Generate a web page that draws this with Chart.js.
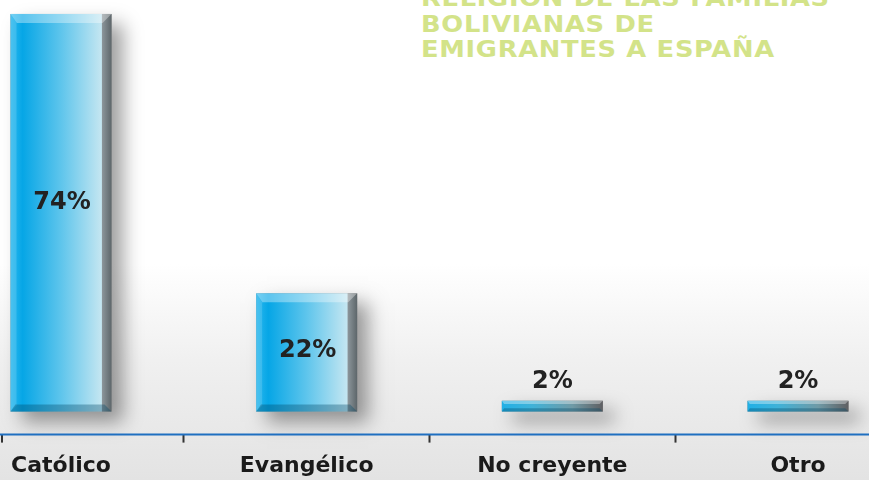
<!DOCTYPE html>
<html>
<head>
<meta charset="utf-8">
<script src="https://cdn.jsdelivr.net/npm/chart.js@4/dist/chart.umd.min.js"></script>
<style>
  html, body { margin: 0; padding: 0; }
  body {
    width: 869px; height: 480px; overflow: hidden; position: relative;
    background: linear-gradient(to bottom, #ffffff 0%, #ffffff 55%, #f0f0f0 75%, #e3e3e3 100%);
    font-family: "DejaVu Sans", Verdana, sans-serif;
  }
  #title {
    position: absolute; left: 421px; top: -14px;
    font: bold 23px "DejaVu Sans", Verdana, sans-serif;
    line-height: 25.5px; letter-spacing: 0.6px;
    transform: scaleX(1.12); transform-origin: 0 0;
    color: #d3e389; white-space: nowrap;
  }
  #wrap { position: absolute; left: 0; top: 0; width: 869px; height: 480px; }
</style>
</head>
<body>
<div id="title">RELIGIÓN DE LAS FAMILIAS<br>BOLIVIANAS DE<br>EMIGRANTES A ESPAÑA</div>
<div id="wrap"><canvas id="chart"></canvas></div>
<script>
  'use strict';

  const categories = ['Católico', 'Evangélico', 'No creyente', 'Otro'];
  const percentages = [74, 22, 2, 2];
  const valueLabels = ['74%', '22%', '2%', '2%'];

  // bars with bevelled edges and a drop shadow, drawn from the bar elements
  const bevelBars = {
    id: 'bevelBars',
    afterDatasetsDraw(chart) {
      const ctx = chart.ctx;
      chart.getDatasetMeta(0).data.forEach((bar, i) => {
        const { x, y, base, width } = bar.getProps(['x', 'y', 'base', 'width'], true);
        const l = x - width / 2, r = x + width / 2, t = y, b = base, h = b - t;
        const bev = Math.min(9, h * 0.3);

        ctx.save();
        ctx.shadowColor = 'rgba(0,0,0,0.38)';
        ctx.shadowBlur = 18;
        ctx.shadowOffsetX = 11;
        ctx.shadowOffsetY = 10;
        ctx.fillStyle = '#8a8a8a';
        ctx.fillRect(l, t, width, h);
        ctx.restore();

        const g = ctx.createLinearGradient(l, 0, r, 0);
        if (h > 30) {
          g.addColorStop(0, '#2bb8ee');
          g.addColorStop(0.12, '#06a6e6');
          g.addColorStop(0.5, '#5ec5ec');
          g.addColorStop(0.9, '#c4e6f1');
          g.addColorStop(0.91, '#8a9499');
          g.addColorStop(1, '#5d666a');
        } else {
          g.addColorStop(0, '#20b0e6');
          g.addColorStop(0.3, '#3fb2d8');
          g.addColorStop(0.7, '#6f9aa6');
          g.addColorStop(1, '#5f5f62');
        }
        ctx.fillStyle = g;
        ctx.fillRect(l, t, width, h);

        // top highlight bevel
        ctx.fillStyle = 'rgba(255,255,255,0.35)';
        ctx.beginPath();
        ctx.moveTo(l, t); ctx.lineTo(r, t);
        ctx.lineTo(r - bev, t + bev); ctx.lineTo(l + bev * 0.7, t + bev);
        ctx.closePath(); ctx.fill();

        // left light bevel
        if (h > 30) {
          ctx.fillStyle = 'rgba(255,255,255,0.15)';
          ctx.beginPath();
          ctx.moveTo(l, t); ctx.lineTo(l + 6, t + bev);
          ctx.lineTo(l + 6, b - 6); ctx.lineTo(l, b);
          ctx.closePath(); ctx.fill();
        }

        // bottom dark bevel
        const bb = Math.min(7, h * 0.3);
        ctx.fillStyle = 'rgba(0,70,100,0.35)';
        ctx.beginPath();
        ctx.moveTo(l, b); ctx.lineTo(r, b);
        ctx.lineTo(r - bb, b - bb); ctx.lineTo(l + bb * 0.7, b - bb);
        ctx.closePath(); ctx.fill();

        // value label: inside tall bars, above short ones
        ctx.fillStyle = '#222222';
        ctx.font = 'bold 24px "DejaVu Sans", Verdana, sans-serif';
        ctx.textAlign = 'center';
        ctx.textBaseline = 'middle';
        if (h > 60) {
          ctx.fillText(valueLabels[i], x + 1, t + h / 2 - (h > 200 ? 10 : 2));
        } else {
          ctx.fillText(valueLabels[i], x, t - 19);
        }
      });
    }
  };

  // blue base line across the full width, plus the left end tick
  const baseLine = {
    id: 'baseLine',
    afterDraw(chart) {
      const ctx = chart.ctx;
      const yPix = chart.scales.x.top;
      ctx.save();
      ctx.fillStyle = '#333333';
      ctx.fillRect(1, yPix, 2, 8);
      ctx.strokeStyle = '#1f6fc0';
      ctx.lineWidth = 2;
      ctx.beginPath();
      ctx.moveTo(0, yPix);
      ctx.lineTo(chart.width, yPix);
      ctx.stroke();
      ctx.restore();
    }
  };

  new Chart(document.getElementById('chart'), {
    type: 'bar',
    data: {
      labels: categories,
      datasets: [{
        data: percentages,
        base: 0,
        backgroundColor: 'rgba(0,0,0,0)',
        barThickness: 101
      }]
    },
    options: {
      responsive: true,
      maintainAspectRatio: false,
      animation: false,
      layout: { padding: { left: 61, right: 71, top: 0, bottom: -9 } },
      plugins: { legend: { display: false }, tooltip: { enabled: false } },
      scales: {
        x: {
          offset: false,
          border: { display: false },
          grid: { offset: true, drawOnChartArea: false, tickLength: 8, tickWidth: 2, tickColor: '#333333' },
          ticks: {
            color: '#1a1a1a',
            padding: 10,
            font: { family: '"DejaVu Sans", Verdana, sans-serif', size: 22, weight: 'bold' }
          }
        },
        y: { display: false, min: -4.3, max: 76.6 }
      }
    },
    plugins: [bevelBars, baseLine]
  });
</script>
</body>
</html>
